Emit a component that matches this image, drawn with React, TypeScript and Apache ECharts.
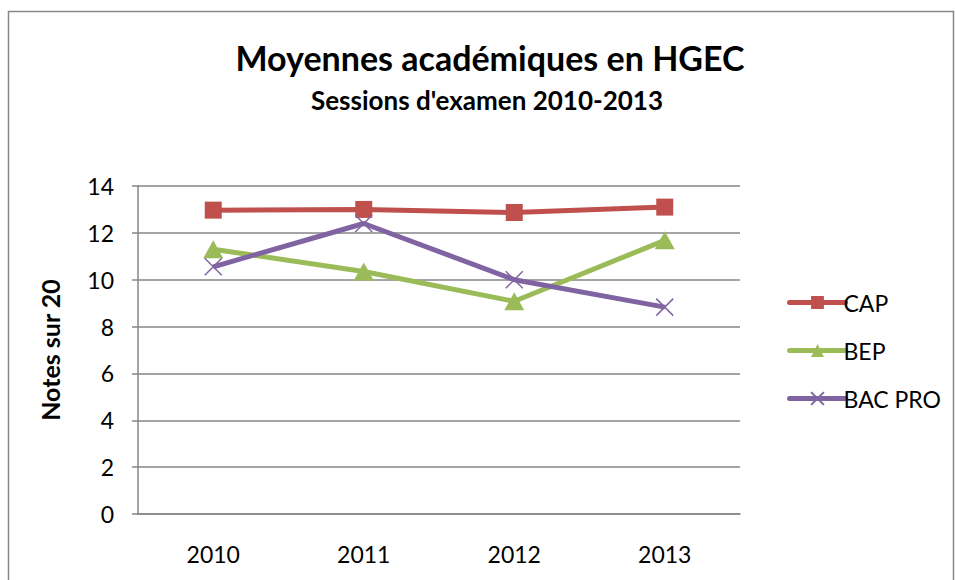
import React, { useEffect, useRef } from "react";
import * as echarts from "echarts";

const categories = ["2010", "2011", "2012", "2013"];
const capValues = [12.97, 13.0, 12.87, 13.1];
const bepValues = [11.3, 10.35, 9.08, 11.68];
const bacProValues = [10.55, 12.4, 10.0, 8.83];
const yTicks = { min: 0, max: 14, interval: 2 };

const FONT = "Lato";

export default function App() {
  const ref = useRef<HTMLDivElement>(null);
  useEffect(() => {
    document.body.style.margin = "0";
    const chart = echarts.init(ref.current!, null, { renderer: "svg" });
    chart.setOption({
      animation: false,
      backgroundColor: "#ffffff",
      title: [
        {
          text: "Moyennes académiques en HGEC",
          left: 485,
          textAlign: "center",
          top: 35,
          textStyle: { fontFamily: FONT, fontWeight: "bold", fontSize: 34, color: "#000" },
        },
        {
          text: "Sessions d'examen 2010-2013",
          left: 482,
          textAlign: "center",
          top: 82,
          textStyle: { fontFamily: FONT, fontWeight: "bold", fontSize: 26, color: "#000" },
        },
      ],
      graphic: [
        {
          type: "rect",
          shape: { x: 8.5, y: 11.5, width: 945, height: 600 },
          style: { fill: "none", stroke: "#868686", lineWidth: 1.5 },
          silent: true,
        },
      ],
      legend: {
        orient: "vertical",
        left: 782,
        top: 286,
        itemWidth: 56,
        itemHeight: 16,
        itemGap: 25,
        lineStyle: { width: 5, cap: "round" },
        textStyle: { fontFamily: FONT, fontSize: 23, color: "#000", padding: [0, 0, 0, -7] },
        data: ["CAP", "BEP", "BAC PRO"],
      },
      grid: { left: 138, right: 215, top: 186, bottom: 66, containLabel: false },
      xAxis: {
        type: "category",
        data: categories,
        boundaryGap: true,
        axisLine: { show: true, lineStyle: { color: "#868686", width: 1.5 } },
        axisTick: { show: false },
        axisLabel: { fontFamily: FONT, fontSize: 23, color: "#000", margin: 28 },
      },
      yAxis: {
        type: "value",
        min: yTicks.min,
        max: yTicks.max,
        interval: yTicks.interval,
        name: "Notes sur 20",
        nameLocation: "middle",
        nameGap: 76,
        nameRotate: 90,
        nameTextStyle: { fontFamily: FONT, fontWeight: "bold", fontSize: 25, color: "#000" },
        axisLine: { show: true, lineStyle: { color: "#868686", width: 1.5 } },
        axisTick: { show: true, inside: false, length: 6, lineStyle: { color: "#868686", width: 1.5 } },
        axisLabel: { fontFamily: FONT, fontSize: 23, color: "#000", margin: 24 },
        splitLine: { show: true, lineStyle: { color: "#868686", width: 1.5 } },
      },
      series: [
        {
          name: "CAP",
          type: "line",
          data: capValues,
          symbol: "rect",
          symbolSize: 17,
          lineStyle: { color: "#C0504D", width: 5 },
          itemStyle: { color: "#C0504D" },
        },
        {
          name: "BEP",
          type: "line",
          data: bepValues,
          symbol: "triangle",
          symbolSize: [20, 18],
          lineStyle: { color: "#9BBB59", width: 5 },
          itemStyle: { color: "#9BBB59" },
        },
        {
          name: "BAC PRO",
          type: "line",
          data: bacProValues,
          symbol: "path://M0,0L10,10M10,0L0,10",
          symbolSize: 17,
          lineStyle: { color: "#8064A2", width: 5 },
          itemStyle: { color: "#8064A2", borderColor: "#8064A2", borderWidth: 1.5 },
        },
      ],
    });
    return () => chart.dispose();
  }, []);
  return <div ref={ref} style={{ width: 955, height: 580 }} />;
}
